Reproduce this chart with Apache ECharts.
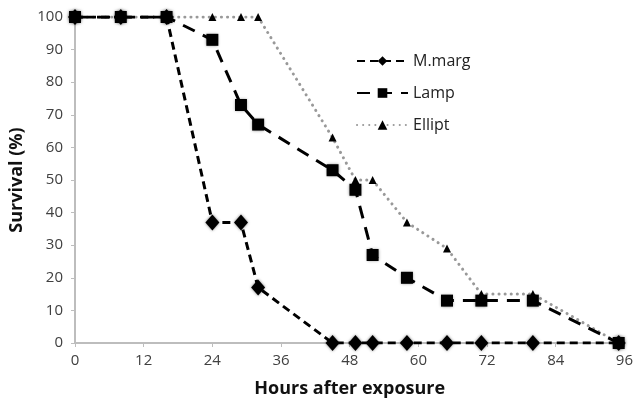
<!DOCTYPE html>
<html>
<head>
<meta charset="utf-8">
<script src="https://cdn.jsdelivr.net/npm/echarts@6/dist/echarts.min.js"></script>
<style>html,body{margin:0;padding:0;background:#fff}#c{width:636px;height:404px}</style>
</head>
<body>
<div id="c"></div>
<script>
var xTicks = [0, 12, 24, 36, 48, 60, 72, 84, 96];
var yTicks = [0, 10, 20, 30, 40, 50, 60, 70, 80, 90, 100];

var mmargHours = [0, 8, 16, 24, 29, 32, 45, 49, 52, 58, 65, 71, 80, 95];
var mmargSurv  = [100, 100, 100, 37, 37, 17, 0, 0, 0, 0, 0, 0, 0, 0];

var lampHours = [0, 8, 16, 24, 29, 32, 45, 49, 52, 58, 65, 71, 80, 95];
var lampSurv  = [100, 100, 100, 93, 73, 67, 53, 47, 27, 20, 13, 13, 13, 0];

var ellHours = [0, 8, 16, 24, 29, 32, 45, 49, 52, 58, 65, 71, 80, 95];
var ellSurv  = [100, 100, 100, 100, 100, 100, 63, 50, 50, 37, 29, 15, 15, 0];

function pairs(xs, ys) { return xs.map(function (x, i) { return [x, ys[i]]; }); }

var FONT = '"Open Sans", Lato, sans-serif';
var chart = echarts.init(document.getElementById('c'));
chart.setOption({
  animation: false,
  backgroundColor: '#fff',
  textStyle: { fontFamily: FONT },
  grid: { left: 75, right: 9, top: 17, bottom: 61, containLabel: false },
  legend: {
    orient: 'vertical',
    left: 351, top: 48,
    itemWidth: 51, itemHeight: 12, itemGap: 16,
    data: ['M.marg', 'Lamp', 'Ellipt'],
    textStyle: { fontFamily: FONT, fontSize: 16, lineHeight: 16, color: '#222' }
  },
  xAxis: {
    type: 'value', min: 0, max: 96, interval: 12,
    name: 'Hours after exposure', nameLocation: 'middle', nameGap: 37,
    nameTextStyle: { fontFamily: FONT, fontSize: 18, fontWeight: 'bold', color: '#111' },
    axisLine: { show: true, lineStyle: { color: '#bdbdbd', width: 2 } },
    axisTick: { show: true, length: 4, lineStyle: { color: '#bdbdbd' } },
    axisLabel: { fontFamily: FONT, fontSize: 15, color: '#404040', margin: 10,
      formatter: function (v) { return xTicks.indexOf(v) >= 0 ? String(v) : ''; } },
    splitLine: { show: false }
  },
  yAxis: {
    type: 'value', min: 0, max: 100, interval: 10,
    name: 'Survival (%)', nameLocation: 'middle', nameGap: 43, nameRotate: 90,
    nameTextStyle: { fontFamily: FONT, fontSize: 18, fontWeight: 'bold', color: '#111' },
    axisLine: { show: true, lineStyle: { color: '#bdbdbd', width: 2 } },
    axisTick: { show: true, length: 4, lineStyle: { color: '#bdbdbd' } },
    axisLabel: { fontFamily: FONT, fontSize: 15, color: '#404040', margin: 12,
      formatter: function (v) { return yTicks.indexOf(v) >= 0 ? String(v) : ''; } },
    splitLine: { show: false }
  },
  series: [
    {
      name: 'Ellipt', type: 'line', z: 2, data: pairs(ellHours, ellSurv),
      symbol: 'triangle', symbolSize: 8,
      itemStyle: { color: '#000' },
      lineStyle: { color: '#999', width: 3, type: [0.1, 6], cap: 'round' }
    },
    {
      name: 'Lamp', type: 'line', z: 3, data: pairs(lampHours, lampSurv),
      symbol: 'rect', symbolSize: 12,
      itemStyle: { color: '#000', shadowBlur: 3, shadowColor: 'rgba(0,0,0,0.5)' },
      lineStyle: { color: '#000', width: 3, type: [13, 9] }
    },
    {
      name: 'M.marg', type: 'line', z: 4, data: pairs(mmargHours, mmargSurv),
      symbol: 'diamond', symbolSize: [14, 16],
      itemStyle: { color: '#000', shadowBlur: 3, shadowColor: 'rgba(0,0,0,0.5)' },
      lineStyle: { color: '#000', width: 3, type: [8, 5] }
    }
  ]
});
</script>
</body>
</html>
